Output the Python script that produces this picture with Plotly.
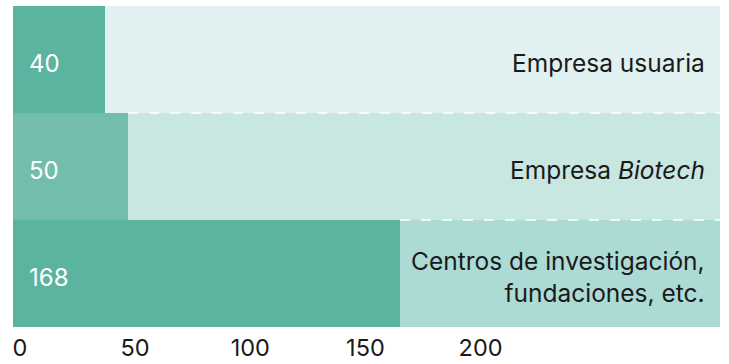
import plotly.graph_objects as go

# Data
categories = ["Empresa usuaria", "Empresa <i>Biotech</i>",
              "Centros de investigación,<br>fundaciones, etc."]
values = [40, 50, 168]
track_max = 307  # full-width track behind each bar
tick_vals = [0, 50, 100, 150, 200]

value_colors = ["#5ab4a0", "#72bdac", "#5ab4a0"]
track_colors = ["#e1f0f0", "#c8e7e1", "#acdbd5"]

FONT = "Inter"
rows = list(range(len(categories)))

fig = go.Figure()

# background tracks
fig.add_trace(go.Bar(
    x=[track_max] * len(rows), y=rows, orientation="h", width=1,
    marker=dict(color=track_colors, line=dict(width=0)),
    hoverinfo="skip", showlegend=False,
))

# dashed separators between rows, visible right of the longer neighbouring bar
for i in range(len(rows) - 1):
    start = max(values[i], values[i + 1])
    fig.add_trace(go.Scatter(
        x=[start, track_max], y=[i + 0.5, i + 0.5], mode="lines",
        line=dict(color="white", width=1.5, dash="10px,11px"),
        hoverinfo="skip", showlegend=False,
    ))

# value bars
fig.add_trace(go.Bar(
    x=values, y=rows, orientation="h", width=1,
    marker=dict(color=value_colors, line=dict(width=0)),
    hoverinfo="skip", showlegend=False,
))

annotations = []
for r, v, name in zip(rows, values, categories):
    annotations.append(dict(
        x=0, y=r, xref="x", yref="y", text=str(v), showarrow=False,
        xanchor="left", yanchor="middle", xshift=14, yshift=-4,
        font=dict(family=FONT, size=24, color="white"),
    ))
    annotations.append(dict(
        x=track_max, y=r, xref="x", yref="y", text=name, showarrow=False,
        xanchor="right", yanchor="middle", align="right", xshift=-13, yshift=-3,
        font=dict(family=FONT, size=24.5, color="#1a1a1a"),
    ))

fig.update_layout(
    width=729, height=364,
    margin=dict(l=13, r=9, t=6, b=37),
    paper_bgcolor="white", plot_bgcolor="white",
    barmode="overlay", bargap=0,
    annotations=annotations,
    xaxis=dict(
        range=[0, track_max], tickvals=tick_vals, showgrid=False, zeroline=False,
        showline=False, ticks="", ticklabelshift=7, ticklabelstandoff=4,
        tickfont=dict(family=FONT, size=23.5, color="#1a1a1a"),
        automargin=False, fixedrange=True,
    ),
    yaxis=dict(
        range=[len(rows) - 0.5, -0.5], showticklabels=False, showgrid=False,
        zeroline=False, showline=False, automargin=False, fixedrange=True,
    ),
)

fig.write_html("out.html")
